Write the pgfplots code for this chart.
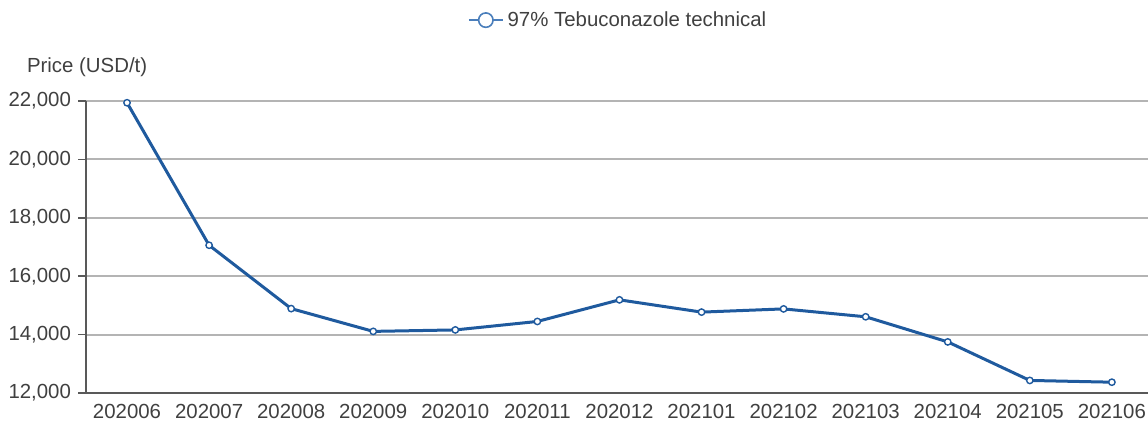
\documentclass[border=0pt]{standalone}
\usepackage{pgfplots}
\pgfplotsset{compat=1.18}
\usepackage{fontspec}
\setmainfont{Liberation Sans}
\definecolor{lineblue}{HTML}{1F5A9E}
\definecolor{legblue}{HTML}{4A7EBB}
\definecolor{txtgray}{HTML}{404040}
\definecolor{axgray}{HTML}{595959}
\definecolor{gridgray}{HTML}{B4B4B4}
\begin{document}
\begin{tikzpicture}
\useasboundingbox (0,0) rectangle (574pt,211.5pt);
\begin{axis}[
    at={(43pt,15pt)}, anchor=south west,
    scale only axis,
    width=531pt, height=146pt,
    xmin=-0.5, xmax=12.44,
    ymin=12000, ymax=22000,
    clip=false,
    scaled y ticks=false,
    axis x line*=bottom, axis y line*=left,
    axis line style={axgray, line width=0.8pt},
    xtick={0,...,12},
    xticklabels={202006,202007,202008,202009,202010,202011,202012,202101,202102,202103,202104,202105,202106},
    minor xtick={0.5,1.5,...,11.5},
    ytick={12000,14000,...,22000},
    tick align=outside,
    x tick style={draw=none},
    minor x tick style={axgray, line width=0.8pt},
    minor tick length=4pt,
    y tick style={axgray, line width=0.8pt},
    major tick length=4pt,
    ymajorgrids,
    grid style={gridgray, line width=1pt},
    tick label style={font=\fontsize{10.2}{12}\selectfont, text=txtgray},
    xticklabel style={yshift=2pt},
    /pgf/number format/.cd, 1000 sep={,}, assume math mode=true,
    /pgfplots/.cd,
    legend style={at={(0.502,1.277)}, anchor=center, draw=none, fill=none,
        font=\fontsize{10.2}{12}\selectfont, text=txtgray},
    legend image code/.code={
        \draw[legblue, line width=0.8pt] (0pt,0pt) -- (17pt,0pt);
        \draw[legblue, line width=0.8pt, fill=white] (8.5pt,0pt) circle (3.6pt);
    },
]
\addplot[lineblue, line width=1.5pt, mark=*, mark size=1.6pt,
    mark options={fill=white, draw=lineblue, line width=0.7pt}]
    coordinates {
    (0,21940) (1,17060) (2,14890) (3,14110) (4,14160) (5,14450)
    (6,15190) (7,14770) (8,14880) (9,14610) (10,13750) (11,12430) (12,12370)
};
\addlegendentry{97\% Tebuconazole technical}
\node[anchor=west, font=\fontsize{10.2}{12}\selectfont, text=txtgray]
    at (rel axis cs:0,1) [xshift=-33pt, yshift=17pt] {Price (USD/t)};
\end{axis}
\end{tikzpicture}
\end{document}
